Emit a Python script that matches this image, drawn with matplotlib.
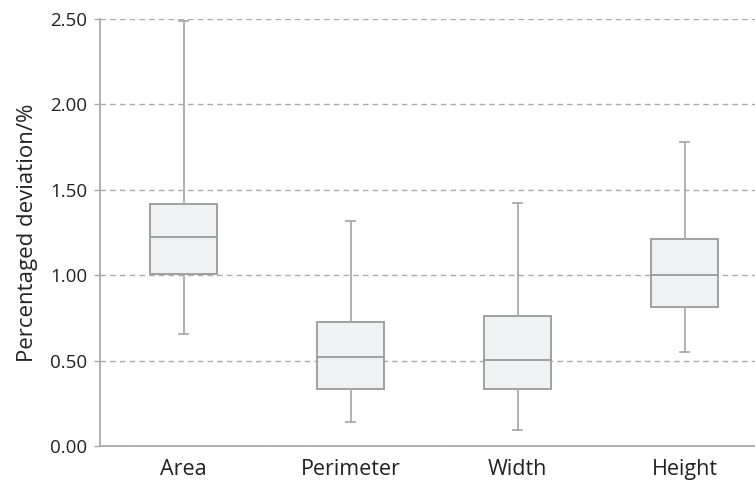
import matplotlib
matplotlib.use("Agg")
import matplotlib.pyplot as plt

categories = ["Area", "Perimeter", "Width", "Height"]
whisker_low = [0.656, 0.14, 0.095, 0.549]
q1 = [1.007, 0.334, 0.334, 0.814]
median = [1.224, 0.521, 0.503, 0.999]
q3 = [1.417, 0.728, 0.761, 1.214]
whisker_high = [2.49, 1.317, 1.424, 1.78]
yticks = [0.0, 0.5, 1.0, 1.5, 2.0, 2.5]

plt.rcParams['font.family'] = ['Open Sans', 'DejaVu Sans']

fig = plt.figure(figsize=(7.55, 4.84), dpi=100)
ax = fig.add_axes([100/755, 1-446/484, 655/755, 427/484])

stats = []
for i, c in enumerate(categories):
    stats.append(dict(label=c, whislo=whisker_low[i], q1=q1[i], med=median[i],
                      q3=q3[i], whishi=whisker_high[i], fliers=[]))

edge = "#9a9a9a"
ax.bxp(stats, positions=range(1, len(categories)+1), widths=0.4, patch_artist=True,
       showfliers=False,
       boxprops=dict(facecolor="#f0f1f3", edgecolor=edge, linewidth=1.3),
       medianprops=dict(color=edge, linewidth=1.3),
       whiskerprops=dict(color="#aaaaaa", linewidth=1.3),
       capprops=dict(color="#aaaaaa", linewidth=1.3),
       capwidths=0.05, zorder=3)

ax.set_xlim(0.5, 0.5 + 655/167)
ax.set_ylim(0, 2.5)
ax.set_yticks(yticks)
ax.set_yticklabels([f"{v:.2f}" for v in yticks])
ax.yaxis.grid(True, linestyle=(0, (4, 3)), color="#aaaaaa", linewidth=1.0)
ax.set_axisbelow(True)
for s in ["top", "right"]:
    ax.spines[s].set_visible(False)
for s in ["left", "bottom"]:
    ax.spines[s].set_color("#aaaaaa")
    ax.spines[s].set_linewidth(1.3)
ax.tick_params(axis="x", length=0, labelsize=15.5, labelcolor="#222222", pad=9.5)
ax.tick_params(axis="y", length=4, width=1.0, color="#aaaaaa", labelsize=13.5,
               labelcolor="#222222", pad=5)
ax.set_ylabel("Percentaged deviation/%", fontsize=16, color="#222222", labelpad=9)

fig.savefig("out.png", dpi=100)
